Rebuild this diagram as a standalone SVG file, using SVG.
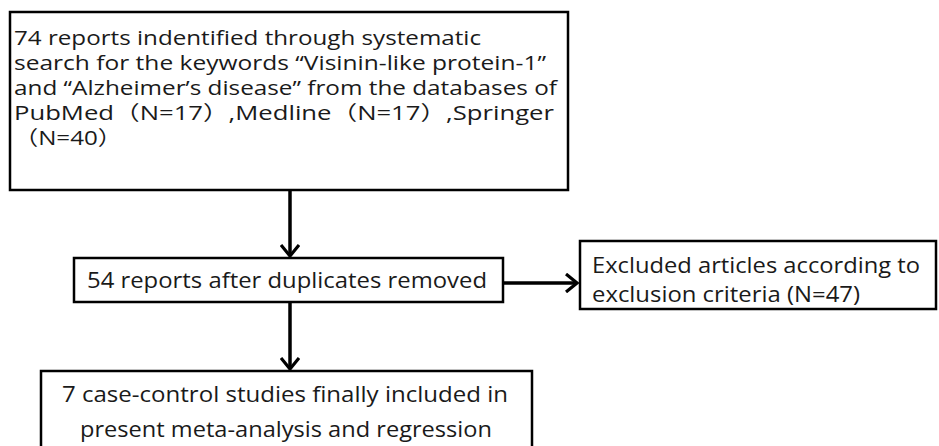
<svg xmlns="http://www.w3.org/2000/svg" width="939" height="446" viewBox="0 0 939 446">
<style>
.box{fill:#fff;stroke:#000;stroke-width:2.5}
.t{font-family:"Open Sans","Noto Sans CJK SC",sans-serif;font-size:22px;fill:#1a1a1a}
.s{font-size:20px}
.c{fill:none;stroke:#000;stroke-width:3.5}
</style>
<defs>
<marker id="ah" viewBox="0 0 14 20" refX="12" refY="10" markerWidth="14" markerHeight="20" markerUnits="userSpaceOnUse" orient="auto">
<path d="M1,1 L12,10 L1,19" fill="none" stroke="#000" stroke-width="3.2"/>
</marker>
</defs>
<rect width="939" height="446" fill="#fff"/>
<g id="connectors">
<line class="c" x1="290" y1="190" x2="290" y2="256" marker-end="url(#ah)"/>
<line class="c" x1="290" y1="302" x2="290" y2="369" marker-end="url(#ah)"/>
<line class="c" x1="503" y1="283" x2="577" y2="283" marker-end="url(#ah)"/>
</g>
<g id="n1">
<rect class="box" x="10" y="12" width="558" height="178"/>
<text class="t s" x="14" y="45" textLength="467" lengthAdjust="spacingAndGlyphs">74 reports indentified through systematic</text>
<text class="t s" x="14" y="70" textLength="532" lengthAdjust="spacingAndGlyphs">search for the keywords “Visinin-like protein-1”</text>
<text class="t s" x="14" y="95" textLength="543" lengthAdjust="spacingAndGlyphs">and “Alzheimer’s disease” from the databases of</text>
<text class="t s" x="14" y="120" textLength="540" lengthAdjust="spacingAndGlyphs">PubMed（N=17）,Medline（N=17）,Springer</text>
<text class="t s" x="14" y="145" textLength="108" lengthAdjust="spacingAndGlyphs">（N=40）</text>
</g>
<g id="n2">
<rect class="box" x="74" y="258" width="429" height="44"/>
<text class="t" x="87" y="288" textLength="400" lengthAdjust="spacingAndGlyphs">54 reports after duplicates removed</text>
</g>
<g id="n3">
<rect class="box" x="580" y="241" width="356" height="68"/>
<text class="t" x="592" y="273" textLength="328" lengthAdjust="spacingAndGlyphs">Excluded articles according to</text>
<text class="t" x="592" y="302" textLength="268" lengthAdjust="spacingAndGlyphs">exclusion criteria (N=47)</text>
</g>
<g id="n4">
<rect class="box" x="41" y="371" width="491" height="85"/>
<text class="t" x="62" y="402" textLength="446" lengthAdjust="spacingAndGlyphs">7 case-control studies finally included in</text>
<text class="t" x="80" y="437" textLength="412" lengthAdjust="spacingAndGlyphs">present meta-analysis and regression</text>
</g>
</svg>
